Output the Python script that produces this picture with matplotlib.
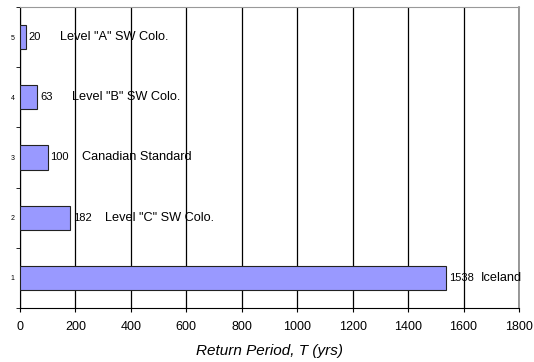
import matplotlib
matplotlib.use("Agg")
import matplotlib.pyplot as plt
import numpy as np

plt.rcParams['font.family'] = ['Liberation Sans', 'DejaVu Sans']

# datos
categorias = [1, 2, 3, 4, 5]
periodos = [1538, 182, 100, 63, 20]
nombres = ["Iceland", 'Level "C" SW Colo.', "Canadian Standard",
           'Level "B" SW Colo.', 'Level "A" SW Colo.']
xticks = [0, 200, 400, 600, 800, 1000, 1200, 1400, 1600, 1800]

fig = plt.figure(figsize=(5.34, 3.62), dpi=100)
ax = fig.add_axes([20 / 534, 1 - 308 / 362, 499 / 534, 301 / 362])

ax.barh(categorias, periodos, height=0.4, color="#9999FF",
        edgecolor="#222222", linewidth=0.8, zorder=3)

# etiquetas de valor y nombre
for c, v, n in zip(categorias, periodos, nombres):
    ax.annotate(str(v), (v, c), xytext=(2, 0), textcoords="offset points",
                va="center", ha="left", fontsize=8, zorder=4)
    ax.annotate(n, (v, c), xytext=(25, 0), textcoords="offset points",
                va="center", ha="left", fontsize=9.2, zorder=4)

ax.set_xlim(0, 1800)
ax.set_ylim(0.5, 5.5)
ax.set_xticks(xticks)
ax.set_xticklabels([str(t) for t in xticks], fontsize=9)
ax.set_yticks(categorias)
ax.set_yticklabels([str(c) for c in categorias], fontsize=5)
ax.set_yticks(np.arange(0.5, 5.6, 1), minor=True)
ax.tick_params(axis="y", which="major", length=0, pad=4)
ax.tick_params(axis="y", which="minor", length=3, direction="out")
ax.tick_params(axis="x", which="major", length=3, direction="out", pad=6)

ax.xaxis.grid(True, color="black", linewidth=0.9, zorder=0)
ax.set_axisbelow(True)

ax.spines["left"].set_color("black")
ax.spines["bottom"].set_color("black")
ax.spines["top"].set_color("#999999")
ax.spines["right"].set_color("#888888")
ax.spines["right"].set_linewidth(1.2)

ax.set_xlabel("Return Period, T (yrs)", fontsize=11, style="italic", labelpad=8)

fig.savefig("out.png", dpi=100)
